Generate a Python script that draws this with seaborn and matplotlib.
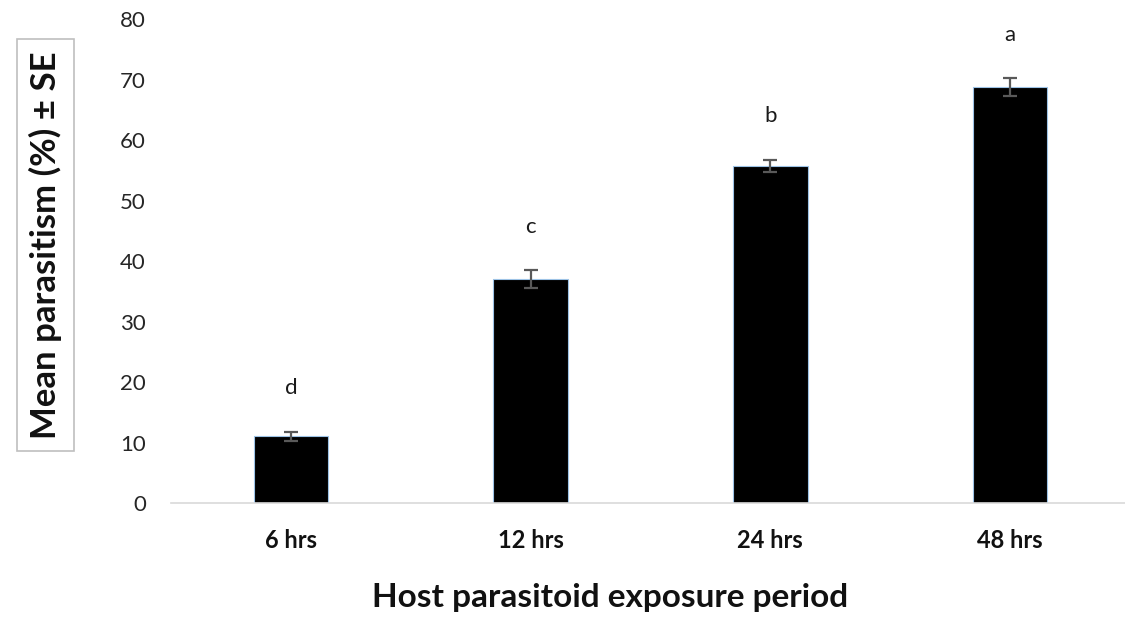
import pandas as pd
import numpy as np
import matplotlib
matplotlib.use("Agg")
import matplotlib.pyplot as plt
import seaborn as sns

# data
periods = ["6 hrs", "12 hrs", "24 hrs", "48 hrs"]
mean_parasitism = [11.0, 37.0, 55.8, 68.8]
se_values = [0.8, 1.5, 1.0, 1.5]
letters = ["d", "c", "b", "a"]

data = pd.DataFrame({"period": periods, "mean": mean_parasitism, "se": se_values})

sns.set_theme(style="white")
plt.rcParams["font.family"] = ["Lato", "DejaVu Sans"]

fig = plt.figure(figsize=(11.25, 6.17), dpi=100)
ax = fig.add_axes([0.152, 0.1848, 0.8524, 0.784])

sns.barplot(data=data, x="period", y="mean", color="black", width=0.31,
            edgecolor="#9dc3e6", linewidth=0.8, errorbar=None, ax=ax, saturation=1)

# error bars on the category positions
xs = np.arange(len(periods))
ax.errorbar(xs, data["mean"], yerr=data["se"], fmt="none", ecolor="#595959",
            elinewidth=1.6, capsize=5, capthick=1.6)

# significance letters
for x, m, s, lt in zip(xs, data["mean"], data["se"], letters):
    ax.annotate(lt, xy=(x, m + s), xytext=(0, 24), textcoords="offset points",
                ha="center", va="bottom", fontsize=16, color="#1a1a1a")

ax.set_ylim(0, 80)
ax.set_xlim(-0.5, 3.5)
ax.set_yticks(range(0, 81, 10))

for side in ["top", "right", "left"]:
    ax.spines[side].set_visible(False)
ax.spines["bottom"].set_color("#d9d9d9")
ax.spines["bottom"].set_linewidth(1.2)

ax.tick_params(axis="y", length=0, pad=18, labelsize=16, labelcolor="#262626")
ax.tick_params(axis="x", length=0, pad=19, labelsize=17, labelcolor="#111111")
for lbl in ax.get_xticklabels():
    lbl.set_fontweight("bold")

ax.set_xlabel("")
ax.set_ylabel("")

fig.text(610 / 1125, 1 - 598 / 617, "Host parasitoid exposure period", ha="center",
         va="center", fontsize=24, fontweight="bold", color="#111111")

fig.text(0.0405, 0.603, "Mean parasitism (%) \u00b1 SE", rotation=90, ha="center",
         va="center", fontsize=25, fontweight="bold", color="#111111",
         bbox=dict(boxstyle="square,pad=0.35", facecolor="white", edgecolor="#bfbfbf",
                   linewidth=1.2))

fig.savefig("out.png", dpi=100)
